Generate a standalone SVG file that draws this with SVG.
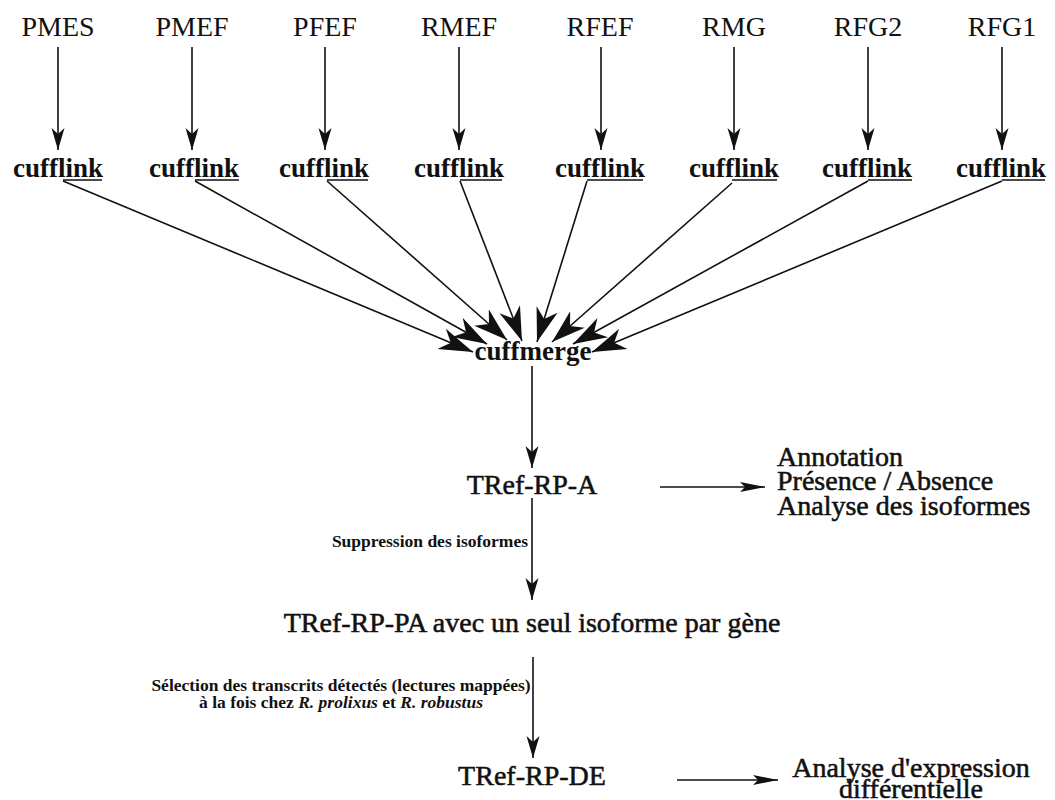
<svg xmlns="http://www.w3.org/2000/svg" width="1055" height="800" viewBox="0 0 1055 800">
<style>
.t{font-family:"Liberation Serif","Times New Roman",serif;fill:#111;}
.lbl{font-size:28px;}
.h{stroke:#111;stroke-width:0.55;}
.b{font-weight:bold;font-size:27px;}
.s{font-weight:bold;font-size:17.5px;}
.ln{stroke:#111;stroke-width:1.6;fill:none;}
.ul{stroke:#111;stroke-width:1.3;}
</style>
<defs>
<marker id="av" markerUnits="userSpaceOnUse" markerWidth="24" markerHeight="16" viewBox="0 -8 24 16" refX="22" refY="0" orient="auto">
<path d="M0,-6.5 L22,0 L0,6.5 L6,0 z" fill="#111"/>
</marker>
<marker id="af" markerUnits="userSpaceOnUse" markerWidth="36" markerHeight="26" viewBox="0 -13 36 26" refX="34" refY="0" orient="auto">
<path d="M0,-11 L34,0 L0,11 L10,0 z" fill="#111"/>
</marker>
<marker id="ah" markerUnits="userSpaceOnUse" markerWidth="28" markerHeight="14" viewBox="0 -7 28 14" refX="25" refY="0" orient="auto">
<path d="M0,-5 L25,0 L0,5 L5,0 z" fill="#111"/>
</marker>
</defs>
<rect width="1055" height="800" fill="#fff"/>

<g id="PMES"><text class="t lbl" x="58" y="36" text-anchor="middle">PMES</text></g>
<g id="PMEF"><text class="t lbl" x="192" y="36" text-anchor="middle">PMEF</text></g>
<g id="PFEF"><text class="t lbl" x="325" y="36" text-anchor="middle">PFEF</text></g>
<g id="RMEF"><text class="t lbl" x="459" y="36" text-anchor="middle">RMEF</text></g>
<g id="RFEF"><text class="t lbl" x="600" y="36" text-anchor="middle">RFEF</text></g>
<g id="RMG"><text class="t lbl" x="734" y="36" text-anchor="middle">RMG</text></g>
<g id="RFG2"><text class="t lbl" x="868" y="36" text-anchor="middle">RFG2</text></g>
<g id="RFG1"><text class="t lbl" x="1002" y="36" text-anchor="middle">RFG1</text></g>

<g id="cufflink1"><text class="t b" x="58" y="177" text-anchor="middle">cufflink</text><line class="ul" x1="63" y1="180" x2="102" y2="180"/></g>
<g id="cufflink2"><text class="t b" x="194" y="177" text-anchor="middle">cufflink</text><line class="ul" x1="195" y1="180" x2="239" y2="180"/></g>
<g id="cufflink3"><text class="t b" x="324" y="177" text-anchor="middle">cufflink</text><line class="ul" x1="327" y1="180" x2="368" y2="180"/></g>
<g id="cufflink4"><text class="t b" x="459" y="177" text-anchor="middle">cufflink</text><line class="ul" x1="460" y1="180" x2="502" y2="180"/></g>
<g id="cufflink5"><text class="t b" x="600" y="177" text-anchor="middle">cufflink</text><line class="ul" x1="587" y1="180" x2="643" y2="180"/></g>
<g id="cufflink6"><text class="t b" x="734" y="177" text-anchor="middle">cufflink</text><line class="ul" x1="732" y1="180" x2="777" y2="180"/></g>
<g id="cufflink7"><text class="t b" x="867" y="177" text-anchor="middle">cufflink</text><line class="ul" x1="868" y1="180" x2="912" y2="180"/></g>
<g id="cufflink8"><text class="t b" x="1001" y="177" text-anchor="middle">cufflink</text><line class="ul" x1="1002" y1="180" x2="1045" y2="180"/></g>

<g id="cuffmerge"><text class="t b" x="533" y="360" text-anchor="middle">cuffmerge</text></g>

<g id="TRef-RP-A"><text class="t lbl h" x="532" y="494" text-anchor="middle">TRef-RP-A</text></g>
<g id="resultats-A">
<text class="t lbl h" x="777" y="466">Annotation</text>
<text class="t lbl h" x="777" y="490">Présence / Absence</text>
<text class="t lbl h" x="777" y="515">Analyse des isoformes</text>
</g>
<g id="TRef-RP-PA"><text class="t lbl h" x="532" y="632" text-anchor="middle">TRef-RP-PA avec un seul isoforme par gène</text></g>
<g id="TRef-RP-DE"><text class="t lbl h" x="532" y="785" text-anchor="middle">TRef-RP-DE</text></g>
<g id="resultats-DE">
<text class="t lbl h" x="911" y="777" text-anchor="middle">Analyse d'expression</text>
<text class="t lbl h" x="911" y="798" text-anchor="middle">différentielle</text>
</g>

<g id="connectors">
<line class="ln" x1="58" y1="47" x2="58" y2="150" marker-end="url(#av)"/>
<line class="ln" x1="192" y1="47" x2="192" y2="150" marker-end="url(#av)"/>
<line class="ln" x1="325" y1="47" x2="325" y2="150" marker-end="url(#av)"/>
<line class="ln" x1="459" y1="47" x2="459" y2="150" marker-end="url(#av)"/>
<line class="ln" x1="601" y1="47" x2="601" y2="150" marker-end="url(#av)"/>
<line class="ln" x1="734" y1="47" x2="734" y2="150" marker-end="url(#av)"/>
<line class="ln" x1="868" y1="47" x2="868" y2="150" marker-end="url(#av)"/>
<line class="ln" x1="1002" y1="47" x2="1002" y2="150" marker-end="url(#av)"/>

<line class="ln" x1="63" y1="181" x2="473" y2="352" marker-end="url(#af)"/>
<line class="ln" x1="195" y1="181" x2="487" y2="344" marker-end="url(#af)"/>
<line class="ln" x1="327" y1="181" x2="507" y2="340" marker-end="url(#af)"/>
<line class="ln" x1="460" y1="181" x2="522" y2="341" marker-end="url(#af)"/>
<line class="ln" x1="587" y1="181" x2="537" y2="342" marker-end="url(#af)"/>
<line class="ln" x1="732" y1="183" x2="552" y2="342" marker-end="url(#af)"/>
<line class="ln" x1="868" y1="181" x2="573" y2="344" marker-end="url(#af)"/>
<line class="ln" x1="1002" y1="181" x2="592" y2="352" marker-end="url(#af)"/>

<line class="ln" x1="532" y1="366" x2="532" y2="468" marker-end="url(#av)"/>
<line class="ln" x1="660" y1="487" x2="765" y2="487" marker-end="url(#ah)"/>
<line class="ln" x1="532" y1="498" x2="532" y2="600" marker-end="url(#av)"/>
<text class="t s" x="528" y="547" text-anchor="end">Suppression des isoformes</text>
<line class="ln" x1="533" y1="657" x2="533" y2="758" marker-end="url(#av)"/>
<text class="t s" x="341" y="691" text-anchor="middle">Sélection des transcrits détectés (lectures mappées)</text>
<text class="t s" x="341" y="708" text-anchor="middle">à la fois chez <tspan font-style="italic">R. prolixus</tspan> et <tspan font-style="italic">R. robustus</tspan></text>
<line class="ln" x1="677" y1="780" x2="778" y2="780" marker-end="url(#ah)"/>
</g>
</svg>
